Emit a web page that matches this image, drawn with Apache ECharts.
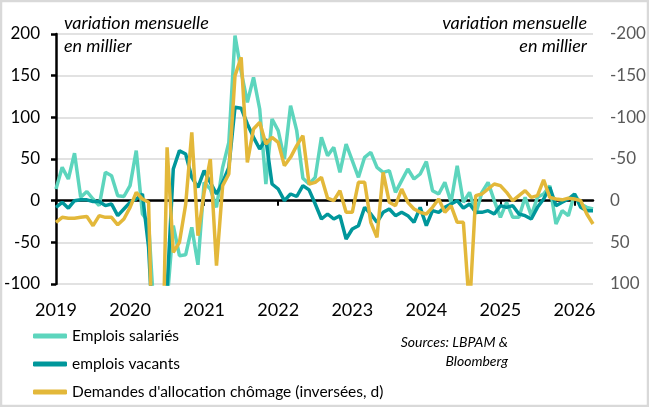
<!DOCTYPE html>
<html>
<head>
<meta charset="utf-8">
<script src="https://cdn.jsdelivr.net/npm/echarts@6/dist/echarts.min.js"></script>
<style>
html,body{margin:0;padding:0;background:#fff;}
#c{width:649px;height:407px;}
</style>
</head>
<body>
<div id="c"></div>
<script>
// Months Jan 2019 .. Apr 2026
const months = [];
for (let y = 2019; y <= 2026; y++) {
  for (let m = 1; m <= 12; m++) {
    if (y === 2026 && m > 4) break;
    months.push(y + '-' + (m < 10 ? '0' + m : m));
  }
}
const yearLabels = ['2019','2020','2021','2022','2023','2024','2025','2026'];
const leftTicks = [-100, -50, 0, 50, 100, 150, 200];
const rightTicks = [-200, -150, -100, -50, 0, 50, 100];

// Emplois salariés (left axis)
const emploisSalaries = [
  14, 40, 26, 57, 4, 11, 2, -6, 34, 30, 6, 5,
  18, 60, -16, -26, -150, -300, -120, -30, -66, -65, -32, -77,
  22, 14, -8, 40, 70, 198, 155, 118, 148, 110, 20, 98,
  84, 50, 114, 84, 27, 20, 28, 76, 54, 64, 34, 68,
  48, 28, 52, 58, 40, 34, 36, 10, 24, 38, 26, 32,
  47, 12, 8, 22, -2, 42, -2, 10, -16, 10, 22, 0,
  -20, -2, -20, -20, 4, -18, 4, 8, 18, -28, -12, -18,
  8, -4, -8, -10
];
// emplois vacants (left axis)
const emploisVacants = [
  -8, -2, -9, 0, 1, 1, -1, -1, -6, -4, -18, -10,
  -2, 2, 8, -56, -200, -300, -105, 38, 60, 56, 28, 16,
  36, 22, 8, 22, 40, 112, 111, 92, 76, 62, 74, 20,
  14, 0, 8, 5, 18, 13, -4, -22, -16, -22, -18, -46,
  -34, -30, -8, -16, -26, -14, -10, -18, -14, -18, -26, -8,
  -30, -12, -14, -8, -4, 0, -9, -4, -14, -14, -12, -16,
  -6, -8, -6, -16, -18, -22, -8, 2, 16, -6, -2, 2,
  8, -8, -12, -12
];
// Demandes d'allocation chômage (right axis, inverted)
const demandesChomage = [
  26, 20, 21, 21, 20, 19, 30, 18, 20, 20, 29, 22,
  8, -10, -2, 2, 300, 300, -64, 62, 50, 5, -82, 42,
  -10, -50, 78, -18, -32, -150, -172, -46, -86, -94, -68, -76,
  -70, -42, -52, -66, -78, -20, -22, -28, -3, 0, -12, 14,
  14, -22, -22, 26, 44, -34, 2, 6, -14, 2, 10, 14,
  16, 8, -2, 14, 6, 26, 26, 130, -6, -8, -14, -20,
  -18, -10, 0, -6, -12, -4, -6, -25, -4, -2, -1, -3,
  -2, 0, 16, 28
];

const FONT = 'Lato';
const chart = echarts.init(document.getElementById('c'), null, {renderer: 'canvas'});
const yearTick = function (idx) { return idx % 12 === 0; };

chart.setOption({
  animation: false,
  backgroundColor: '#ffffff',
  textStyle: {fontFamily: FONT},
  grid: {left: 56, right: 56, top: 34, bottom: 123, containLabel: false},
  xAxis: [
    {
      type: 'category', data: months, boundaryGap: false, position: 'bottom',
      axisLine: {show: false, onZero: false},
      axisTick: {show: false},
      splitLine: {show: false},
      axisLabel: {
        interval: yearTick, margin: 17, color: '#000', fontSize: 18, fontFamily: FONT,
        formatter: function (v) { return yearLabels[yearLabels.indexOf(v.slice(0, 4))]; }
      }
    },
    {
      type: 'category', data: months, boundaryGap: false, position: 'bottom',
      axisLine: {show: true, onZero: true, onZeroAxisIndex: 0, lineStyle: {color: '#000', width: 2.5}},
      axisTick: {show: true, interval: yearTick, length: 5, lineStyle: {color: '#000', width: 2}},
      axisLabel: {show: false},
      splitLine: {show: false}
    }
  ],
  yAxis: [
    {
      type: 'value', min: leftTicks[0], max: leftTicks[leftTicks.length - 1], interval: 50, position: 'left',
      axisLine: {show: true, lineStyle: {color: '#000', width: 2.5}},
      axisTick: {show: true, length: 5, lineStyle: {color: '#000', width: 2.5}},
      axisLabel: {color: '#000', fontSize: 17, margin: 16, fontFamily: FONT},
      splitLine: {show: true, lineStyle: {color: '#d9d9d9', width: 1.5}}
    },
    {
      type: 'value', min: rightTicks[0], max: rightTicks[rightTicks.length - 1], interval: 50, position: 'right', inverse: true,
      axisLine: {show: false}, axisTick: {show: false},
      axisLabel: {color: '#595959', fontSize: 17, margin: 17, fontFamily: FONT},
      splitLine: {show: false}
    }
  ],
  legend: {
    orient: 'vertical', left: 28, top: 323,
    itemWidth: 34, itemHeight: 5, itemGap: 12,
    icon: 'roundRect',
    textStyle: {color: '#000', fontSize: 15.5, fontFamily: FONT},
    data: ['Emplois salariés', 'emplois vacants', "Demandes d'allocation chômage (inversées, d)"]
  },
  series: [
    {
      name: 'Emplois salariés', type: 'line', data: emploisSalaries, xAxisIndex: 0, yAxisIndex: 0,
      showSymbol: false, symbol: 'none', clip: true,
      lineStyle: {color: '#5dd5bd', width: 3.5}, itemStyle: {color: '#5dd5bd'}, z: 3
    },
    {
      name: 'emplois vacants', type: 'line', data: emploisVacants, xAxisIndex: 0, yAxisIndex: 0,
      showSymbol: false, symbol: 'none', clip: true,
      lineStyle: {color: '#00979b', width: 3.5}, itemStyle: {color: '#00979b'}, z: 4
    },
    {
      name: "Demandes d'allocation chômage (inversées, d)", type: 'line', data: demandesChomage, xAxisIndex: 0, yAxisIndex: 1,
      showSymbol: false, symbol: 'none', clip: true,
      lineStyle: {color: '#e3b83a', width: 3.5}, itemStyle: {color: '#e3b83a'}, z: 5
    }
  ],
  graphic: [
    {type: 'rect', shape: {x: 1, y: 1, width: 647, height: 405}, style: {fill: 'none', stroke: '#d9d9d9', lineWidth: 2.5}, silent: true},
    {type: 'text', left: 64, top: 14, style: {text: 'variation mensuelle', font: 'italic 18px Lato', fill: '#000'}},
    {type: 'text', left: 64, top: 37, style: {text: 'en millier', font: 'italic 18px Lato', fill: '#000'}},
    {type: 'text', right: 62, top: 14, style: {text: 'variation mensuelle', font: 'italic 18px Lato', fill: '#000', align: 'right'}},
    {type: 'text', right: 62, top: 37, style: {text: 'en millier', font: 'italic 18px Lato', fill: '#000', align: 'right'}},
    {type: 'text', right: 141, top: 335, style: {text: 'Sources: LBPAM &', font: 'italic 14px Lato', fill: '#000', align: 'right'}},
    {type: 'text', right: 141, top: 354, style: {text: 'Bloomberg', font: 'italic 14px Lato', fill: '#000', align: 'right'}}
  ]
});
</script>
</body>
</html>
